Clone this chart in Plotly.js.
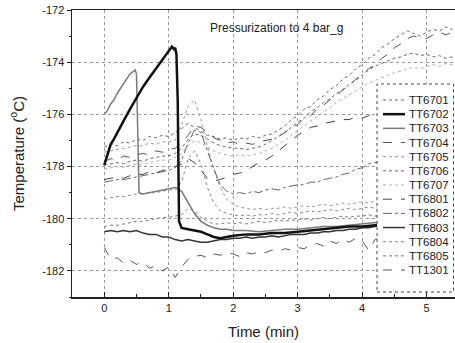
<!DOCTYPE html>
<html><head><meta charset="utf-8">
<script src="https://cdn.plot.ly/plotly-3.0.1.min.js"></script>
<style>html,body{margin:0;padding:0;background:#fff}#chart{width:455px;height:343px}</style>
</head><body><div id="chart"></div>
<script>
// ---- data ----
const time = [0,0.1,0.2,0.3,0.4,0.5,0.6,0.7,0.8,0.9,1.0,1.1,1.2,1.3,1.4,1.5,1.6,1.7,1.8,1.9,2.0,2.1,2.2,2.3,2.4,2.5,2.6,2.7,2.8,2.9,3.0,3.1,3.2,3.3,3.4,3.5,3.6,3.7,3.8,3.9,4.0,4.1,4.2,4.3,4.4,4.5,4.6,4.7,4.8,4.9,5.0,5.1,5.2,5.3,5.4];
const time6702 = [0,0.03,0.07,0.1,0.15,0.2,0.3,0.4,0.5,0.6,0.7,0.8,0.9,1.0,1.05,1.08,1.1,1.12,1.14,1.16,1.2,1.3,1.4,1.5,1.6,1.7,1.8,1.9,2.0,2.2,2.4,2.6,2.8,3.0,3.2,3.4,3.6,3.8,4.0,4.2,4.4,4.6,4.8,5.0,5.2,5.4];
const time6703 = [0,0.05,0.1,0.15,0.2,0.25,0.3,0.35,0.4,0.45,0.48,0.5,0.52,0.54,0.6,0.7,0.8,0.9,1.0,1.1,1.2,1.3,1.4,1.5,1.6,1.7,1.8,1.9,2.0,2.2,2.4,2.6,2.8,3.0,3.2,3.4,3.6,3.8,4.0,4.2,4.4,4.6,4.8,5.0,5.2,5.4];

const tt6701 = [-177.25,-177.15,-177.2,-177.05,-177.1,-176.95,-177.0,-176.85,-176.9,-176.8,-176.85,-176.7,-176.55,-176.35,-176.5,-176.65,-176.8,-176.85,-176.95,-176.9,-177.0,-176.9,-176.95,-176.85,-176.9,-176.8,-176.75,-176.6,-176.45,-176.2,-176.05,-175.8,-175.7,-175.45,-175.3,-175.05,-174.9,-174.65,-174.5,-174.25,-174.1,-173.85,-173.7,-173.45,-173.3,-173.1,-172.95,-172.8,-172.9,-173.0,-172.85,-172.75,-172.8,-172.65,-172.75];
const tt6702 = [-177.95,-177.7,-177.35,-177.15,-176.95,-176.7,-176.25,-175.8,-175.35,-174.95,-174.6,-174.25,-173.9,-173.55,-173.4,-173.5,-173.45,-173.7,-175.5,-180.1,-180.35,-180.4,-180.45,-180.5,-180.6,-180.7,-180.75,-180.7,-180.65,-180.6,-180.6,-180.55,-180.55,-180.5,-180.45,-180.4,-180.35,-180.3,-180.3,-180.25,-180.2,-180.15,-180.15,-180.1,-180.1,-180.05];
const tt6703 = [-176.0,-175.85,-175.6,-175.45,-175.2,-175.0,-174.8,-174.65,-174.45,-174.35,-174.3,-174.45,-176.6,-179.0,-179.05,-179.0,-178.95,-178.9,-178.85,-178.8,-178.95,-179.4,-179.8,-180.1,-180.25,-180.35,-180.4,-180.4,-180.45,-180.45,-180.5,-180.45,-180.4,-180.4,-180.35,-180.3,-180.3,-180.25,-180.2,-180.15,-180.1,-180.1,-180.05,-180.0,-180.0,-179.95];
const tt6704 = [-177.8,-177.7,-177.75,-177.6,-177.65,-177.55,-177.5,-177.55,-177.4,-177.45,-177.35,-177.3,-177.1,-176.8,-176.45,-176.5,-176.7,-176.9,-177.0,-177.1,-177.05,-177.15,-177.1,-177.15,-177.05,-177.0,-176.95,-176.85,-176.7,-176.5,-176.4,-176.15,-176.05,-175.8,-175.65,-175.45,-175.3,-175.05,-174.9,-174.65,-174.5,-174.25,-174.1,-173.85,-173.7,-173.45,-173.3,-173.1,-173.0,-173.05,-173.1,-172.95,-172.85,-172.95,-172.85];
const tt6705 = [-177.45,-177.4,-177.35,-177.3,-177.25,-177.2,-177.2,-177.1,-177.15,-177.05,-177.05,-177.0,-176.4,-175.7,-175.45,-176.2,-177.2,-178.1,-178.8,-179.25,-179.45,-179.55,-179.6,-179.65,-179.6,-179.65,-179.6,-179.6,-179.55,-179.6,-179.55,-179.5,-179.55,-179.5,-179.45,-179.5,-179.45,-179.4,-179.45,-179.4,-179.35,-179.4,-179.3,-179.35,-179.3,-179.25,-179.3,-179.2,-179.25,-179.2,-179.15,-179.2,-179.1,-179.15,-179.1];
const tt6706 = [-177.95,-177.9,-177.85,-177.9,-177.8,-177.75,-177.8,-177.7,-177.65,-177.6,-177.6,-177.5,-177.3,-176.95,-176.75,-176.8,-176.95,-177.1,-177.2,-177.25,-177.3,-177.3,-177.35,-177.3,-177.25,-177.15,-177.0,-176.85,-176.7,-176.5,-176.3,-176.15,-175.9,-175.75,-175.55,-175.4,-175.2,-175.05,-174.85,-174.7,-174.5,-174.3,-174.15,-174.05,-173.95,-173.85,-173.8,-173.7,-173.65,-173.75,-173.7,-173.8,-173.75,-173.85,-173.8];
const tt6707 = [-178.1,-178.05,-178.0,-178.05,-177.95,-177.9,-177.95,-177.85,-177.8,-177.75,-177.75,-177.65,-177.5,-177.2,-177.0,-177.1,-177.25,-177.4,-177.5,-177.55,-177.6,-177.55,-177.6,-177.55,-177.5,-177.4,-177.3,-177.15,-177.0,-176.8,-176.6,-176.45,-176.25,-176.1,-175.9,-175.75,-175.55,-175.4,-175.25,-175.1,-174.95,-174.8,-174.7,-174.6,-174.5,-174.4,-174.35,-174.25,-174.2,-174.25,-174.15,-174.1,-174.15,-174.05,-174.1];
const tt6801 = [-178.5,-178.45,-178.4,-178.45,-178.35,-178.3,-178.3,-178.2,-178.25,-178.15,-178.1,-178.0,-177.9,-177.7,-177.85,-178.15,-178.45,-178.55,-178.5,-178.4,-178.3,-178.25,-178.15,-178.0,-177.85,-177.75,-177.6,-177.4,-177.2,-177.0,-176.8,-176.65,-176.5,-176.45,-176.35,-176.3,-176.25,-176.2,-176.2,-176.1,-176.15,-176.05,-176.0,-175.95,-175.9,-175.8,-175.75,-175.7,-175.65,-175.6,-175.6,-175.55,-175.5,-175.5,-175.45];
const tt6802 = [-178.6,-178.55,-178.5,-178.5,-178.45,-178.4,-178.35,-178.3,-178.25,-178.2,-178.15,-178.05,-177.75,-177.1,-176.6,-176.7,-177.4,-178.1,-178.7,-178.95,-179.05,-179.0,-179.05,-178.95,-179.0,-178.9,-178.85,-178.9,-178.8,-178.75,-178.7,-178.7,-178.6,-178.6,-178.5,-178.45,-178.4,-178.3,-178.25,-178.1,-178.05,-177.9,-177.85,-177.75,-177.7,-177.6,-177.55,-177.5,-177.45,-177.4,-177.35,-177.3,-177.3,-177.25,-177.2];
const tt6803 = [-180.5,-180.45,-180.5,-180.45,-180.5,-180.45,-180.55,-180.6,-180.6,-180.7,-180.7,-180.8,-180.85,-180.8,-180.85,-180.9,-180.9,-180.85,-180.8,-180.8,-180.75,-180.75,-180.7,-180.75,-180.7,-180.7,-180.65,-180.7,-180.65,-180.6,-180.6,-180.6,-180.55,-180.55,-180.5,-180.5,-180.45,-180.45,-180.4,-180.4,-180.35,-180.35,-180.3,-180.25,-180.25,-180.2,-180.2,-180.15,-180.15,-180.1,-180.1,-180.05,-180.05,-180.0,-180.0];
const tt6804 = [-179.25,-179.2,-179.15,-179.15,-179.1,-179.05,-179.05,-179.0,-179.0,-178.95,-178.9,-178.9,-178.6,-177.7,-177.4,-177.9,-178.8,-179.4,-179.7,-179.8,-179.85,-179.9,-179.85,-179.9,-179.85,-179.85,-179.8,-179.85,-179.8,-179.75,-179.8,-179.75,-179.7,-179.75,-179.7,-179.65,-179.7,-179.65,-179.6,-179.65,-179.6,-179.55,-179.6,-179.5,-179.55,-179.5,-179.45,-179.5,-179.4,-179.45,-179.4,-179.35,-179.4,-179.3,-179.35];
const tt6805 = [-180.3,-180.25,-180.25,-180.2,-180.15,-180.1,-180.1,-180.05,-180.0,-179.95,-179.95,-179.9,-179.85,-179.6,-179.7,-179.95,-180.1,-180.2,-180.2,-180.15,-180.2,-180.15,-180.2,-180.15,-180.1,-180.15,-180.1,-180.05,-180.1,-180.05,-180.05,-180.0,-180.05,-180.0,-179.95,-180.0,-179.95,-179.9,-179.95,-179.9,-179.9,-179.85,-179.9,-179.85,-179.8,-179.85,-179.8,-179.75,-179.8,-179.75,-179.7,-179.75,-179.7,-179.65,-179.7];
const tt1301 = [-181.1,-181.55,-181.5,-181.7,-181.6,-181.75,-181.65,-181.9,-181.8,-182.0,-181.85,-182.25,-181.85,-181.55,-181.45,-181.4,-181.5,-181.35,-181.4,-181.3,-181.35,-181.45,-181.3,-181.35,-181.25,-181.3,-181.2,-181.25,-181.15,-181.2,-181.1,-181.15,-181.0,-180.95,-181.05,-180.85,-180.95,-180.8,-180.9,-180.75,-180.85,-181.2,-180.8,-180.7,-180.75,-180.65,-180.7,-180.6,-180.65,-180.55,-180.6,-180.5,-180.55,-180.45,-180.5];

const seriesNames = ['TT6701','TT6702','TT6703','TT6704','TT6705','TT6706','TT6707','TT6801','TT6802','TT6803','TT6804','TT6805','TT1301'];
const yTickVals = [-182,-180,-178,-176,-174,-172];
const yTickText = ['-182','-180','-178','-176','-174','-172'];
const xTickVals = [0,1,2,3,4,5];
const xTickText = ['0','1','2','3','4','5'];
const chartTitle = 'Pressurization to 4 bar_g';
const xTitle = 'Time (min)';
const yTitle = 'Temperature (<sup>o</sup>C)';

// ---- styling ----
const seriesX = [time, time6702, time6703, time, time, time, time, time, time, time, time, time, time];
const seriesY = [tt6701, tt6702, tt6703, tt6704, tt6705, tt6706, tt6707, tt6801, tt6802, tt6803, tt6804, tt6805, tt1301];
const lineStyles = [
  {color:'#666666', width:1, dash:'dot'},
  {color:'#111111', width:2.5, dash:'solid'},
  {color:'#7a7a7a', width:1.5, dash:'solid'},
  {color:'#555555', width:1, dash:'dash'},
  {color:'#999999', width:1, dash:'dot'},
  {color:'#666666', width:1, dash:'dot'},
  {color:'#b0b0b0', width:1, dash:'dot'},
  {color:'#444444', width:1, dash:'dash'},
  {color:'#666666', width:1, dash:'dashdot'},
  {color:'#333333', width:1.5, dash:'solid'},
  {color:'#888888', width:1, dash:'dot'},
  {color:'#777777', width:1, dash:'dot'},
  {color:'#555555', width:1, dash:'dash'}
];
const drawOrder = [6,4,10,11,5,7,8,0,3,12,2,9,1];
const traces = drawOrder.map(i => ({
  type:'scatter', mode:'lines', name:seriesNames[i],
  x:seriesX[i], y:seriesY[i], line:lineStyles[i], showlegend:false, hoverinfo:'skip'
}));

// ---- legend box drawn with paper-coordinate shapes ----
const plotL = 72, plotR = 455, plotT = 10, plotB = 297;
const px = v => (v - plotL) / (plotR - plotL);
const py = v => (plotB - v) / (plotB - plotT);
const shapes = [{type:'rect', xref:'paper', yref:'paper', x0:px(377), x1:px(453.5), y0:py(292), y1:py(84),
  line:{color:'#444', width:1, dash:'dot'}, fillcolor:'#ffffff', layer:'above'}];
const annotations = [{xref:'paper', yref:'paper', x:px(276), y:py(28), text:chartTitle, showarrow:false,
  font:{size:12, color:'#222'}, xanchor:'center', yanchor:'middle'}];
seriesNames.forEach((n,i) => {
  const yy = py(100 + 14.17*i);
  const st = lineStyles[i];
  shapes.push({type:'line', xref:'paper', yref:'paper', x0:px(383), x1:px(405), y0:yy, y1:yy,
    line:{color:st.color, width:st.width, dash:st.dash}, layer:'above'});
  annotations.push({xref:'paper', yref:'paper', x:px(407), y:yy, text:n, showarrow:false,
    xanchor:'left', yanchor:'middle', font:{size:11.5, color:'#222'}});
});

const axisCommon = {showline:true, linecolor:'#222', linewidth:1.5, zeroline:false,
  showgrid:true, gridcolor:'#9a9a9a', griddash:'dot', gridwidth:1, tickcolor:'#222', automargin:false};

const layout = {
  width:455, height:343,
  margin:{l:plotL, r:455-plotR, t:plotT, b:343-plotB},
  paper_bgcolor:'#fff', plot_bgcolor:'#fff',
  font:{family:'Liberation Sans, Arial, sans-serif', color:'#222', size:11},
  showlegend:false,
  xaxis:Object.assign({}, axisCommon, {
    range:[-0.5,5.44], tickmode:'array', tickvals:xTickVals, ticktext:xTickText,
    ticks:'inside', ticklen:5, mirror:true, tickfont:{size:11},
    minor:{dtick:0.5, tick0:0, ticks:'inside', ticklen:3, tickcolor:'#222', showgrid:false},
    title:{text:xTitle, font:{size:15}, standoff:14}
  }),
  yaxis:Object.assign({}, axisCommon, {
    range:[-183,-172], tickmode:'array', tickvals:yTickVals, ticktext:yTickText,
    ticks:'outside', ticklen:4, tickfont:{size:11},
    minor:{dtick:1, tick0:-172, ticks:'outside', ticklen:2, tickcolor:'#222', showgrid:false},
    title:{text:yTitle, font:{size:15}, standoff:14}
  }),
  shapes:shapes, annotations:annotations
};

Plotly.newPlot('chart', traces, layout, {staticPlot:true, displayModeBar:false});
</script>
</body></html>
